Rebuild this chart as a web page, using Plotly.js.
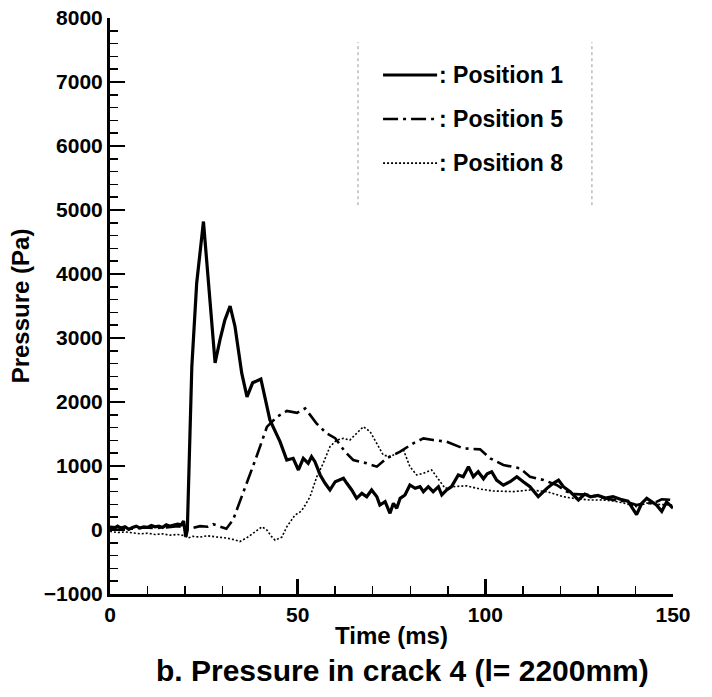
<!DOCTYPE html>
<html>
<head>
<meta charset="utf-8">
<script src="https://cdn.plot.ly/plotly-3.0.1.min.js"></script>
<style>html,body{margin:0;padding:0;background:#fff;}#chart{width:712px;height:697px;}</style>
</head>
<body>
<div id="chart"></div>
<script>
// ---- data (time in ms, pressure in Pa) ----
const seriesNames = [": Position 1", ": Position 5", ": Position 8"];

const t1 = [0,1,2,3,4,5,6,7,8,9,10,11,12,13,14,15,16,17,18,19,19.6,20.2,20.6,21.8,23.1,24.9,26.6,28,29.3,30.6,32,33.3,35.1,36.5,38,40.2,42.6,45.3,47.1,48.8,50.2,51.5,52.8,53.7,54.6,56,57.3,58.6,60,61.3,62.2,63.1,64.4,65.7,67.1,68.4,69.7,71.1,71.9,73.3,74.6,75.5,76.4,77.3,78.6,79.9,81.3,82.6,83.5,84.8,86.1,87.5,88.4,89.7,91,92.8,94.1,95.5,96.8,98.1,99.5,100.5,101.7,103,104.8,106.6,108.4,110.1,111.9,114.1,116.4,118.1,119.5,120.8,122.6,124.8,126.5,128,130,132,134,136,138,140.3,141.7,143,144.3,145.6,147,148.3,150];
const p1 = [40,20,60,30,50,10,40,60,30,50,40,70,50,60,40,80,60,70,90,80,140,-110,0,2550,3860,4820,3590,2610,2970,3280,3500,3180,2450,2080,2300,2360,1720,1380,1094,1120,938,1120,1042,1145,1067,860,730,625,755,780,808,730,625,495,573,520,625,520,390,442,260,417,339,495,547,703,651,677,599,677,599,677,547,625,677,860,833,990,833,911,800,880,910,780,700,755,833,755,677,520,651,730,781,677,599,470,560,520,540,500,520,480,450,240,420,495,440,390,290,440,340];

const t5 = [0,3,6,9,12,15,18,21,22,24,26,27.5,29,30,31,32.8,35.5,39,41.8,44.5,47.1,48.5,49.8,52,55,57.7,60,62.6,64.8,68.4,71.1,73.7,77.3,80.8,83.5,86.1,89.7,94.1,98.6,101.3,104.8,109.2,111.9,115.5,119,121.7,124,127.9,131,134.1,137,140.3,142.5,144.8,147,149.2,150];
const p5 = [50,30,20,40,30,40,60,30,30,60,50,90,60,30,20,160,580,1140,1610,1770,1860,1840,1830,1900,1667,1510,1435,1224,1094,1042,990,1120,1224,1355,1432,1406,1380,1276,1260,1120,1016,964,833,781,703,599,560,547,510,469,450,390,420,417,480,469,470];

const t8 = [0,2,4,6,8,10,12,14,16,18,20,20.8,22,24,26,28.5,31,33,34.6,36.5,38.1,40.5,41.8,43,44,45.8,47.1,49.3,50.6,51.5,53.3,55.1,56.8,58.6,60.4,62.2,63.9,65.7,67.5,69.3,71.1,72.8,74.6,76.4,78.2,79.9,81.7,83.5,85.7,87,89.3,91.5,95,98.6,102,107.5,111.9,116.4,120.8,124,127.9,131,134,137,140.3,143,146,150];
const p8 = [-20,-40,-30,-50,-60,-50,-70,-60,-80,-70,-90,-125,-100,-110,-90,-110,-125,-150,-180,-120,-50,50,0,-100,-160,-110,50,234,280,339,520,833,1042,1302,1406,1432,1406,1510,1614,1536,1355,1172,1146,1198,1250,990,860,885,938,833,651,677,690,640,610,600,625,599,520,490,469,470,455,420,364,420,400,390];

const xTitle = "Time (ms)";
const yTitle = "Pressure (Pa)";
const caption = "b. Pressure in crack 4 (l= 2200mm)";

// ---- styles ----
const FONT = "Liberation Sans, Arial, sans-serif";
const styles = [
  {color: "#000", width: 3.2, dash: "solid"},
  {color: "#000", width: 2.6, dash: "15px,5px,3px,5px"},
  {color: "#000", width: 1.6, dash: "2px,2px"}
];

const traces = [[t1,p1],[t5,p5],[t8,p8]].map((d, i) => ({
  x: d[0], y: d[1], type: "scatter", mode: "lines",
  name: seriesNames[i], line: {color: styles[i].color, width: styles[i].width, dash: styles[i].dash},
  showlegend: false
}));

// manual legend (sample line + text)
const legX0 = 0.485, legX1 = 0.581;
const legY = [0.901, 0.8247, 0.748];
const shapes = [];
const annotations = [];
seriesNames.forEach((n, i) => {
  shapes.push({type: "line", xref: "paper", yref: "paper", x0: legX0, x1: legX1, y0: legY[i], y1: legY[i],
    line: {color: styles[i].color, width: styles[i].width, dash: styles[i].dash}});
  annotations.push({xref: "paper", yref: "paper", x: legX1, y: legY[i], xanchor: "left", yanchor: "middle",
    text: n, showarrow: false, font: {family: FONT, size: 23, color: "#000", weight: "bold"}});
});
// legend frame (left and right edges only)
[0.4405, 0.856].forEach(xv => shapes.push({type: "line", xref: "paper", yref: "paper", x0: xv, x1: xv, y0: 0.675, y1: 0.958,
  line: {color: "#999", width: 1, dash: "dot"}}));

annotations.push({xref: "paper", yref: "paper", x: 0.519, y: -0.132, xanchor: "center", yanchor: "middle",
  text: caption, showarrow: false, font: {family: FONT, size: 30, color: "#000", weight: "bold"}});

const axisCommon = {
  showgrid: false, zeroline: false, showline: true, linecolor: "#000", linewidth: 3,
  ticks: "inside", ticklen: 15, tickwidth: 2.5, tickcolor: "#000",
  tickfont: {family: FONT, size: 21, color: "#000", weight: "bold"},
  mirror: false
};

const layout = {
  width: 712, height: 697,
  margin: {l: 110, r: 39, t: 18, b: 103},
  paper_bgcolor: "#fff", plot_bgcolor: "#fff",
  showlegend: false,
  xaxis: Object.assign({}, axisCommon, {
    range: [0, 150], tick0: 0, dtick: 50,
    minor: {dtick: 10, ticks: "inside", ticklen: 8, tickwidth: 1.5, tickcolor: "#000"},
    title: {text: xTitle, font: {family: FONT, size: 24, color: "#000", weight: "bold"}, standoff: 2}
  }),
  yaxis: Object.assign({}, axisCommon, {
    range: [-1000, 8000], tick0: -1000, dtick: 1000,
    minor: {dtick: 200, ticks: "inside", ticklen: 8, tickwidth: 1.5, tickcolor: "#000"},
    title: {text: yTitle, font: {family: FONT, size: 24, color: "#000", weight: "bold"}, standoff: 8}
  }),
  shapes: shapes,
  annotations: annotations
};

Plotly.newPlot("chart", traces, layout, {staticPlot: true, displayModeBar: false});
</script>
</body>
</html>
